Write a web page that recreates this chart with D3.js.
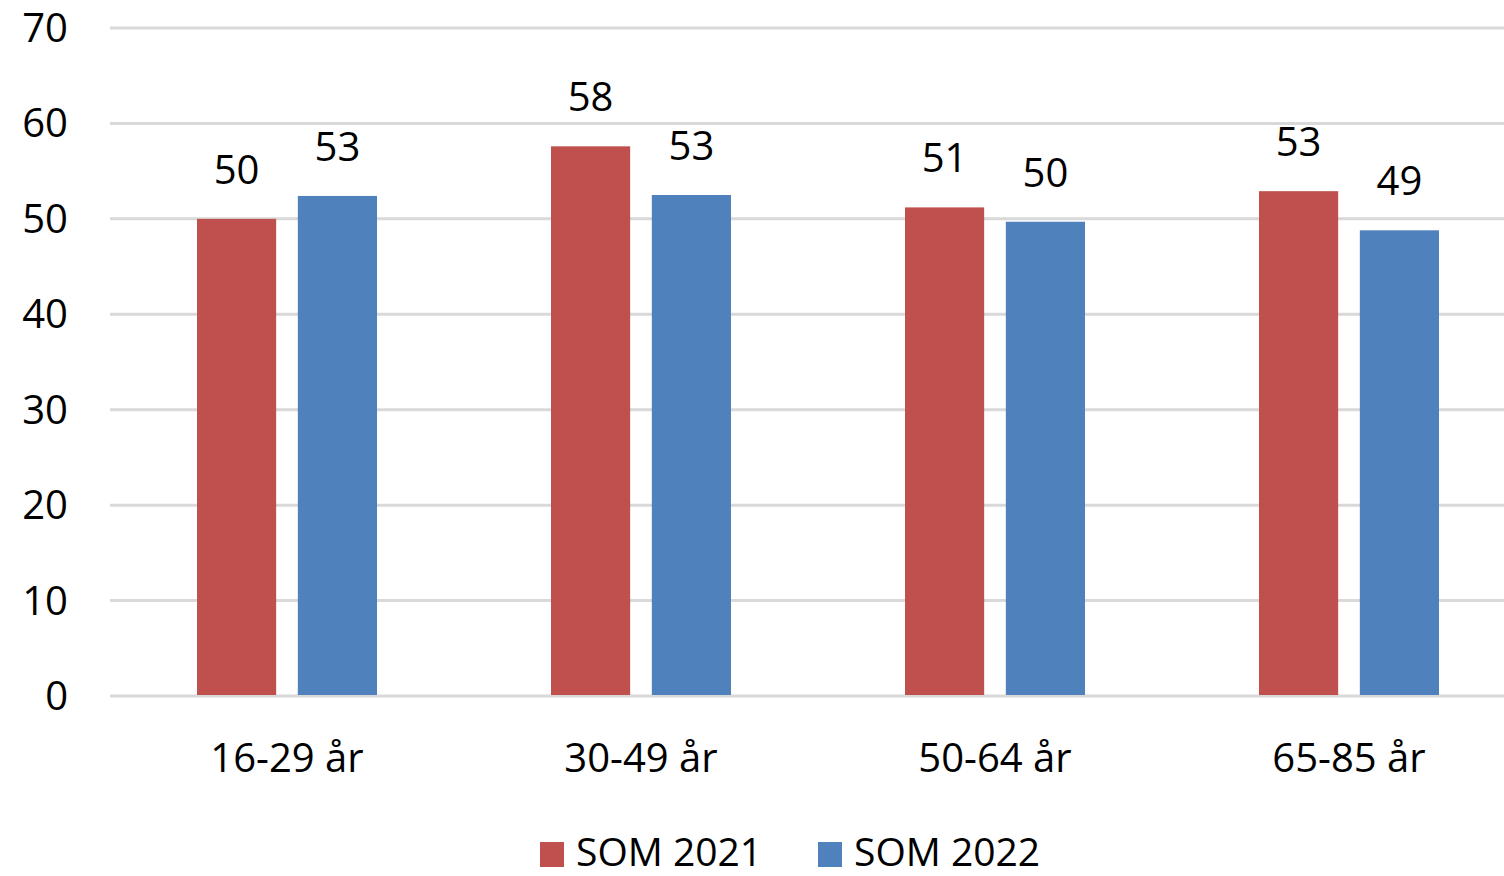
<!DOCTYPE html>
<html><head><meta charset="utf-8">
<script src="https://cdn.jsdelivr.net/npm/d3@7"></script>
<style>html,body{margin:0;padding:0;background:#fff;overflow:hidden}</style>
</head><body>
<svg id="c" width="1504" height="876"></svg>
<script>
const categories = ["16-29 år", "30-49 år", "50-64 år", "65-85 år"];
const seriesNames = ["SOM 2021", "SOM 2022"];
const som2021 = [50.0, 57.6, 51.2, 52.9];
const som2022 = [52.4, 52.5, 49.7, 48.8];
const valueLabels2021 = ["50", "58", "51", "53"];
const valueLabels2022 = ["53", "53", "50", "49"];
const yTicks = [0, 10, 20, 30, 40, 50, 60, 70];
const colors = ["#C0504D", "#4F81BD"];

const svg = d3.select("#c");
const font = "'Open Sans', sans-serif";
const left = 110, step = 354;
const x = d3.scaleBand().domain(categories).range([left, left + step * categories.length]).paddingInner(0).paddingOuter(0);
const y = d3.scaleLinear().domain([0, 70]).range([696, 28]);
const x1 = d3.scaleBand().domain(seriesNames).range([87, 267]).paddingInner(0.215);

// gridlines
svg.append("g").selectAll("line").data(yTicks).join("line")
  .attr("x1", left).attr("x2", 1504)
  .attr("y1", d => y(d)).attr("y2", d => y(d))
  .attr("stroke", "#d9d9d9").attr("stroke-width", 3);

// y labels
svg.append("g").selectAll("text").data(yTicks).join("text")
  .attr("x", 68).attr("y", d => y(d)).attr("dy", "0.35em")
  .attr("text-anchor", "end").attr("font-family", font).attr("font-size", 40).attr("fill", "#000")
  .text(d => d);

const series = [
  {name: seriesNames[0], values: som2021, labels: valueLabels2021, color: colors[0]},
  {name: seriesNames[1], values: som2022, labels: valueLabels2022, color: colors[1]}
];

series.forEach(s => {
  const g = svg.append("g");
  g.selectAll("rect").data(categories).join("rect")
    .attr("x", (c) => x(c) + x1(s.name))
    .attr("width", x1.bandwidth())
    .attr("y", (c, i) => y(s.values[i]))
    .attr("height", (c, i) => y(0) - y(s.values[i]) - 1)
    .attr("fill", s.color);
  g.selectAll("text").data(categories).join("text")
    .attr("x", (c) => x(c) + x1(s.name) + x1.bandwidth() / 2)
    .attr("y", (c, i) => y(s.values[i]) - 35)
    .attr("text-anchor", "middle").attr("font-family", font).attr("font-size", 40).attr("fill", "#000")
    .text((c, i) => s.labels[i]);
});

// x labels
svg.append("g").selectAll("text").data(categories).join("text")
  .attr("x", c => x(c) + x.bandwidth() / 2).attr("y", 772)
  .attr("text-anchor", "middle").attr("font-family", font).attr("font-size", 40).attr("fill", "#000")
  .text(c => c);

// legend
const legendX = [540, 818];
const lg = svg.append("g");
series.forEach((s, i) => {
  lg.append("rect").attr("x", legendX[i]).attr("y", 842).attr("width", 24).attr("height", 25).attr("fill", s.color);
  lg.append("text").attr("x", legendX[i] + 36).attr("y", 866)
    .attr("font-family", font).attr("font-size", 39).attr("fill", "#000").text(s.name);
});
</script>
</body></html>
